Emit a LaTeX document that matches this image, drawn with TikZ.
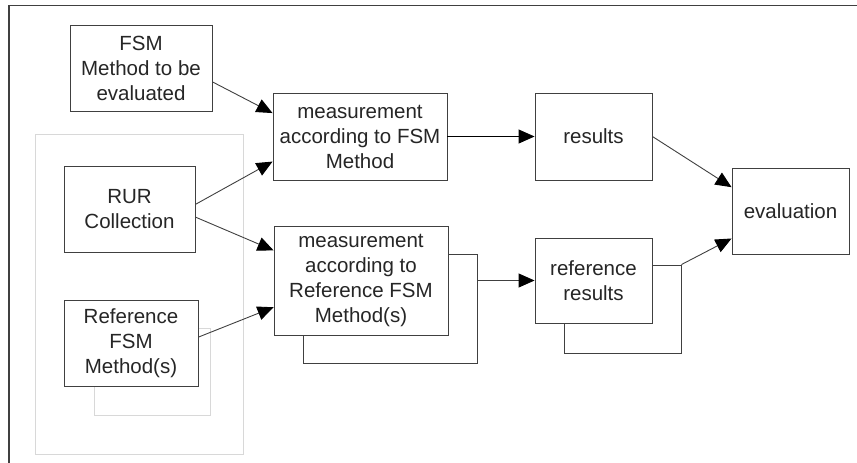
\documentclass[tikz,border=0pt]{standalone}
\usepackage{fontspec}
\setmainfont{Liberation Sans}
\usetikzlibrary{arrows.meta,positioning}
\definecolor{linegray}{HTML}{404040}
\definecolor{palegray}{HTML}{D8D8D8}

\begin{document}
\begin{tikzpicture}[x=1pt,y=-1pt,->,>={Triangle[length=16pt,width=14pt,color=black]},line width=0.9pt,
  box/.style={draw=linegray,fill=white,align=center,inner sep=0pt,text=black!85,
    font=\fontsize{20.5}{25}\selectfont},
  palebox/.style={draw=palegray,inner sep=0pt}]
	\useasboundingbox (0,0) rectangle (857,463);
	\draw[-,linegray,line width=1.3pt] (9,463) -- (9,5.5) -- (857,5.5);

	% grouping of the inputs
	\node[palebox, minimum width=208pt, minimum height=320pt] (grp)   at (139,294)   {};
	\node[palebox, minimum width=116pt, minimum height=87pt]  (refsh) at (152,371.5) {};

	\node[box, minimum width=142pt, minimum height=86pt]  (fsm)   at (141,68)    {FSM\\Method to be\\evaluated};
	\node[box, minimum width=131pt, minimum height=86pt]  (rur)   at (129.5,209) {RUR\\Collection};
	\node[box, minimum width=134pt, minimum height=86pt]  (ref)   at (131,343)   {Reference\\FSM\\Method(s)};

	\node[box, minimum width=174pt, minimum height=87pt]  (meas)  at (360,136.5) {measurement\\according to FSM\\Method};
	\node[box, minimum width=174pt, minimum height=109pt] (meass) at (390,308.5) {};
	\node[box, minimum width=174pt, minimum height=109pt] (meas2) at (361,280.5) {measurement\\according to\\Reference FSM\\Method(s)};

	\node[box, minimum width=117pt, minimum height=87pt]  (res)   at (593.5,136.5) {results};
	\node[box, minimum width=117pt, minimum height=88pt]  (rress) at (622.5,309)   {};
	\node[box, minimum width=117pt, minimum height=85pt]  (rres)  at (593.5,280.5) {reference\\results};

	\node[box, minimum width=117pt, minimum height=86pt]  (eval)  at (790.5,211)   {evaluation};

	\draw[linegray] (fsm.-11) -- (meas.165);
	\draw[linegray] (rur.4)   -- (meas.-164);
	\draw[linegray] (rur.-7)  -- (meas2.161);
	\draw[linegray] (ref.5)   -- (meas2.-163);
	\draw[black]    (meas.east) -- (res.west);
	\draw[linegray] (meass.east |- rres.west) -- (rres.west);
	\draw[linegray] (res.east) -- (eval.158);
	\draw[linegray] (rress.north east) -- (eval.-155);
\end{tikzpicture}
\end{document}
